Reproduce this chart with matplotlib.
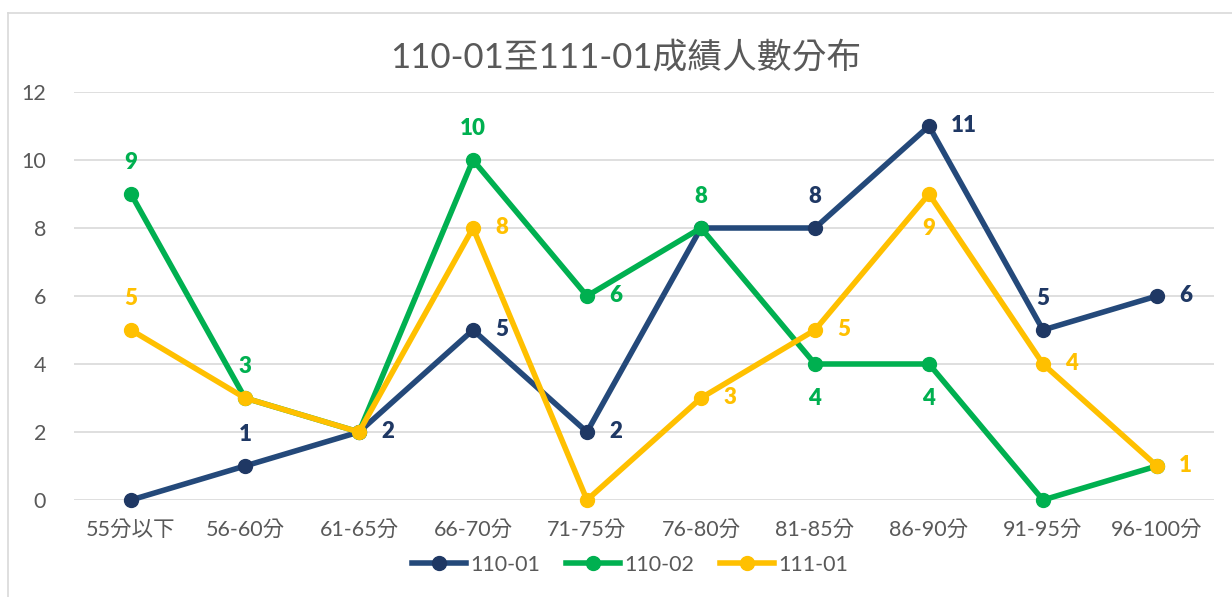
import matplotlib
matplotlib.use("Agg")
import matplotlib.pyplot as plt
from matplotlib.lines import Line2D

plt.rcParams['font.family'] = ['Lato', 'Noto Sans CJK TC', 'DejaVu Sans']

categories = ['55分以下', '56-60分', '61-65分', '66-70分', '71-75分',
              '76-80分', '81-85分', '86-90分', '91-95分', '96-100分']
s_110_01 = [0, 1, 2, 5, 2, 8, 8, 11, 5, 6]
s_110_02 = [9, 3, 2, 10, 6, 8, 4, 4, 0, 1]
s_111_01 = [5, 3, 2, 8, 0, 3, 5, 9, 4, 1]
names = ['110-01', '110-02', '111-01']

# label placement per point: 'a' above, 'r' right, 'b' below, None hidden
lab_110_01 = [None, 'a', 'r', 'r', 'r', None, 'a', 'r', 'a', 'r']
lab_110_02 = ['a', 'a', None, 'a', 'r', 'a', 'b', 'b', None, None]
lab_111_01 = ['a', None, None, 'r', None, 'r', 'r', 'b', 'r', 'r']

series = [
    (s_110_01, lab_110_01, '#24497A', '#1F3864', '#1F3864'),
    (s_110_02, lab_110_02, '#00B050', '#00B050', '#00B050'),
    (s_111_01, lab_111_01, '#FFC000', '#FFC000', '#FFC000'),
]

fig = plt.figure(figsize=(12.32, 5.97), dpi=100)
W, H = 1232, 597
ax = fig.add_axes([74 / W, 1 - 500 / H, (1214 - 74) / W, (500 - 92) / H])

x = list(range(len(categories)))
offsets = {'a': ((0, 23), 'center'), 'r': ((16, 0), 'left'), 'b': ((0, -25), 'center')}
for vals, labs, lc, mc, tc in series:
    ax.plot(x, vals, color=lc, lw=4, marker='o', ms=10,
            markerfacecolor=mc, markeredgecolor=mc, clip_on=False, zorder=3,
            solid_capstyle='round')
    for i, v in enumerate(vals):
        if labs[i] is None:
            continue
        off, ha = offsets[labs[i]]
        ax.annotate(str(v), (i, v), xytext=off, textcoords='offset points',
                    ha=ha, va='center', fontsize=16, fontweight='heavy',
                    color=tc, zorder=4)

ax.set_xlim(-0.5, len(categories) - 0.5)
ax.set_ylim(0, 12)
ax.set_yticks(range(0, 13, 2))
ax.set_xticks(x)
ax.set_xticklabels(categories)
ax.tick_params(length=0, labelsize=15.5, labelcolor='#595959')
ax.tick_params(axis='x', pad=14)
ax.tick_params(axis='y', pad=20)
ax.grid(axis='y', color='#D9D9D9', lw=1.2)
ax.set_axisbelow(True)
for s in ax.spines.values():
    s.set_visible(False)

fig.text(626 / W, 1 - 57 / H, '110-01至111-01成績人數分布', ha='center', va='center',
         fontsize=25, color='#595959')

handles = [Line2D([], [], color=lc, lw=4, marker='o', ms=10,
                  markerfacecolor=mc, markeredgecolor=mc)
           for _, _, lc, mc, _ in series]
fig.legend(handles, names, loc='center', bbox_to_anchor=(630 / W, 1 - 565 / H),
           ncol=3, frameon=False, fontsize=15.5, labelcolor='#595959',
           handlelength=2.5, handletextpad=0.2, columnspacing=1.2)

# chart frame
fig.add_artist(Line2D([8 / W, 1], [1 - 13 / H, 1 - 13 / H], color='#D9D9D9', lw=1.2,
                      transform=fig.transFigure))
fig.add_artist(Line2D([8 / W, 8 / W], [0, 1 - 13 / H], color='#D9D9D9', lw=1.2,
                      transform=fig.transFigure))

fig.savefig('out.png', dpi=100, facecolor='white')
